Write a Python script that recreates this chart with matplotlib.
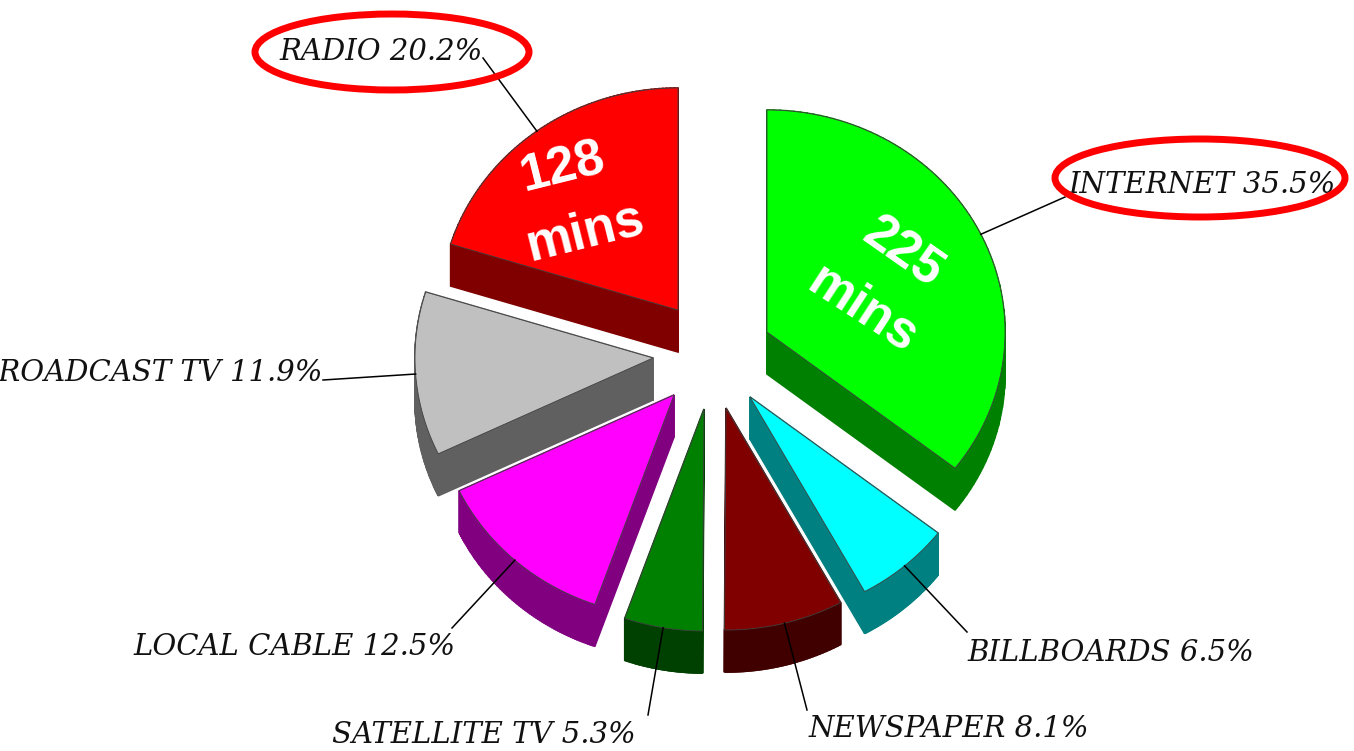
import numpy as np
import matplotlib
matplotlib.use('Agg')
import matplotlib.pyplot as plt
from matplotlib.patches import Ellipse, Polygon

# Clockwise from 12 o'clock
labels = ['INTERNET', 'BILLBOARDS', 'NEWSPAPER', 'SATELLITE TV', 'LOCAL CABLE', 'BROADCAST TV', 'RADIO']
shares = [35.5, 6.5, 8.1, 5.3, 12.5, 11.9, 20.2]
top_colors = ['#00ff00', '#00ffff', '#800000', '#008000', '#ff00ff', '#c0c0c0', '#ff0000']
wall_colors = ['#008000', '#008080', '#400000', '#004000', '#800080', '#606060', '#800000']

# Layout, in pixels of the picture
apex_x = [767, 750, 726, 704, 674, 653, 678]
apex_y = [332, 397, 408, 409, 395, 358, 310]
label_x = [1068, 967, 809, 332, 133, 323, 279]
label_y = [185, 653, 729, 735, 647, 373, 52]
label_ha = ['left', 'left', 'left', 'left', 'left', 'right', 'left']
leader_x = [1065, 967, 807, 648, 452, 323, 483]
leader_y = [197, 632, 710, 715, 628, 380, 58]
draw_order = [6, 0, 5, 1, 4, 2, 3]

rx, ry, depth = 238, 222, 42

fig = plt.figure(figsize=(13.54, 7.51), dpi=100)
ax = fig.add_axes([0, 0, 1, 1])
ax.set_xlim(0, 1354)
ax.set_ylim(751, 0)
ax.axis('off')

edges = np.cumsum([0] + shares) * 3.6


def rim(i, theta):
    t = np.radians(theta)
    return apex_x[i] + rx * np.sin(t), apex_y[i] - ry * np.cos(t)


for i in draw_order:
    thetas = np.linspace(edges[i], edges[i + 1], 80)
    xs, ys = rim(i, thetas)
    pts = np.vstack([[apex_x[i], apex_y[i]], np.column_stack([xs, ys])])
    # side walls: each outline segment pushed straight down
    for a, b in zip(pts, np.roll(pts, -1, axis=0)):
        quad = [a, b, b + [0, depth], a + [0, depth]]
        ax.add_patch(Polygon(quad, closed=True, fc=wall_colors[i], ec=wall_colors[i], lw=1.2, zorder=2))
    ax.add_patch(Polygon(pts, closed=True, fc=top_colors[i], ec='#404040', lw=0.6, zorder=2))

for i in range(len(labels)):
    mid = (edges[i] + edges[i + 1]) / 2
    x0, y0 = rim(i, mid)
    ax.plot([x0, leader_x[i]], [y0, leader_y[i]], color='black', lw=1.1, zorder=3)
    ax.text(label_x[i], label_y[i], '%s %.1f%%' % (labels[i], shares[i]),
            family='DejaVu Serif', style='italic', fontsize=21, color='#111111',
            ha=label_ha[i], va='center', zorder=4)

# Callouts on the two highlighted slices
for txt, x, y, rot in [('128', 563, 168, 14), ('mins', 585, 233, 14), ('225', 902, 253, -35), ('mins', 862, 310, -33)]:
    ax.text(x, y, txt, color='white', family='Liberation Sans', weight='bold', fontsize=37,
            rotation=rot, ha='center', va='center', rotation_mode='anchor', zorder=5)

ax.add_patch(Ellipse((392, 52), 274, 76, fc='none', ec='#ff0000', lw=5, zorder=6))
ax.add_patch(Ellipse((1200, 178), 290, 78, fc='none', ec='#ff0000', lw=5, zorder=6))

fig.savefig('out.png', dpi=100, facecolor='white')
